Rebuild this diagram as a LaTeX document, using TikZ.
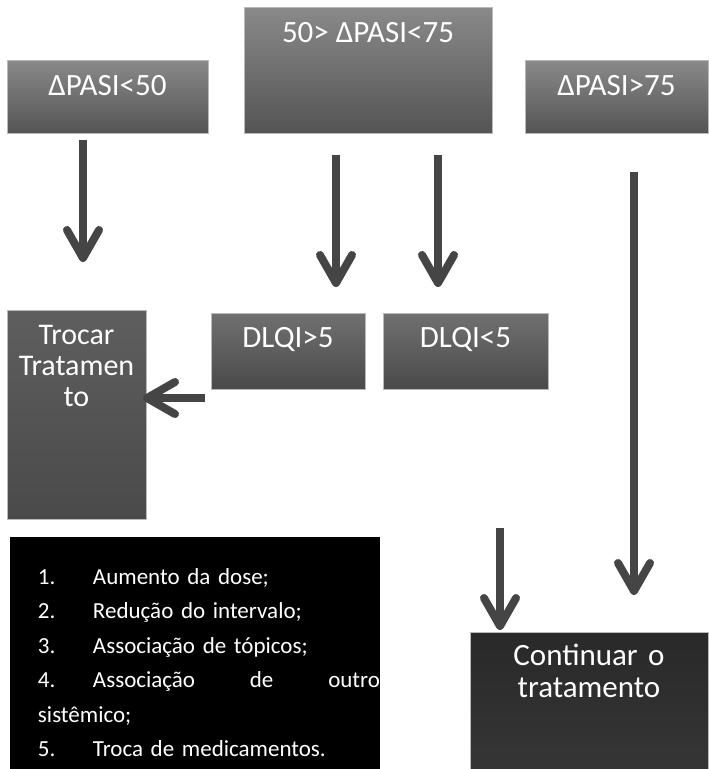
\documentclass[tikz,border=0pt]{standalone}
\usepackage{fontspec}
\setmainfont{Carlito}
\usetikzlibrary{arrows.meta}
\usetikzlibrary{positioning}
\definecolor{arrowgray}{HTML}{454545}
\tikzset{%
  gbox/.style = {rectangle,draw=gray!55,line width=0.6pt,inner sep=0pt,
        outer sep=0pt,text=white,font=\fontsize{31}{31}\selectfont},
  pbox/.style = {gbox,top color=black!46,bottom color=black!67},
  qbox/.style = {gbox,top color=black!56,bottom color=black!71},
  tbox/.style = {gbox,top color=black!63,bottom color=black!71,
        font=\fontsize{30}{31}\selectfont},
  cbox/.style = {gbox,top color=black!84,bottom color=black!79,
        font=\fontsize{31}{32}\selectfont},
  lbox/.style = {rectangle,fill=black,inner sep=0pt,outer sep=0pt,
        text=white,font=\fontsize{23}{34.5}\selectfont},
  bigarrow/.style = {draw=arrowgray,line width=8pt,
        -{Straight Barb[length=28pt,width=32pt,round]}}
}

\begin{document}
\begin{tikzpicture}[x=1pt,y=-1pt,node distance=18pt]
   \useasboundingbox (0,0) rectangle (709,769);

   \node[pbox,anchor=north west,minimum width=201pt,minimum height=73pt,
         text height=35pt,text depth=38pt] (pasiA) at (7,60) {ΔPASI<50};
   \node[pbox,anchor=north west,minimum width=248pt,minimum height=126pt,
         text height=35pt,text depth=91pt] (pasiB) at (244,7) {50> ΔPASI<75};
   \node[pbox,anchor=north west,minimum width=183pt,minimum height=73pt,
         text height=35pt,text depth=38pt] (pasiC) at (525,60) {ΔPASI>75};

   \node[tbox,anchor=north west,text width=139pt,align=center,
         text height=34pt,text depth=175pt] (trocar) at (7,310)
         {Trocar\\Tratamen\\to};
   \node[qbox,anchor=north west,minimum width=154pt,minimum height=76pt,
         text height=34pt,text depth=42pt] (dlqiA) at (211,313) {DLQI>5};
   \node[qbox,minimum width=165pt,minimum height=76pt,
         text height=34pt,text depth=42pt] (dlqiB) [right=of dlqiA] {DLQI<5};

   \node[lbox,anchor=north west,text width=370pt,align=left,
         text height=47pt,text depth=185pt] (lista) at (10,537)
         {\hspace*{28pt}\makebox[55pt][l]{1.}Aumento da dose;\\
          \hspace*{28pt}\makebox[55pt][l]{2.}Redução do intervalo;\\
          \hspace*{28pt}\makebox[55pt][l]{3.}Associação de tópicos;\\
          \hspace*{28pt}\makebox[55pt][l]{4.}Associação\hfill de\hfill outro\hspace*{9pt}\\
          \hspace*{28pt}sistêmico;\\
          \hspace*{28pt}\makebox[55pt][l]{5.}Troca de medicamentos.};
   \node[cbox,anchor=north west,text width=238pt,align=center,
         text height=33pt,text depth=104pt] (cont) at (470,632)
         {Continuar o\\tratamento};

   \draw[bigarrow,shorten <=7pt,shorten >=48pt]
        ([xshift=-24.5pt]pasiA.south) -- ([xshift=6.5pt]trocar.north);
   \draw[bigarrow,shorten <=22pt,shorten >=26pt]
        ([xshift=-32pt]pasiB.south) -- ([xshift=48pt]dlqiA.north);
   \draw[bigarrow,shorten <=22pt,shorten >=26pt]
        ([xshift=70pt]pasiB.south) -- ([xshift=-27.5pt]dlqiB.north);
   \draw[bigarrow,shorten <=39pt,shorten >=37pt]
        ([xshift=17.5pt]pasiC.south) -- ([xshift=45pt]cont.north);
   \draw[bigarrow,shorten <=139pt,shorten >=2pt]
        ([xshift=34.5pt]dlqiB.south) -- ([xshift=-89pt]cont.north);
   \draw[bigarrow,shorten >=-3pt]
        ([xshift=-6pt,yshift=-9pt]dlqiA.south west) -- ([yshift=-88pt]trocar.north east);
\end{tikzpicture}
\end{document}
